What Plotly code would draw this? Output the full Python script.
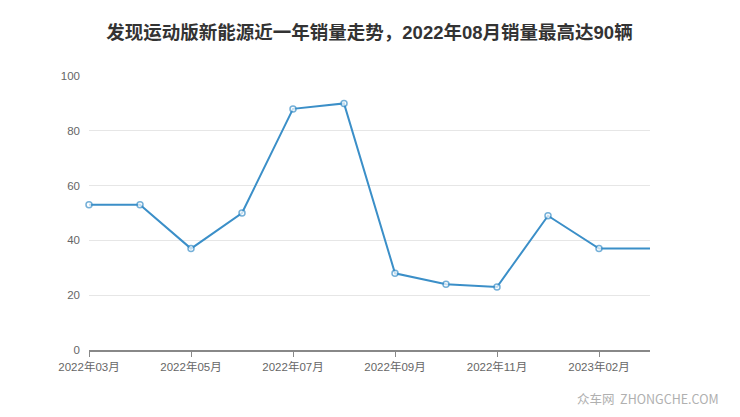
import plotly.graph_objects as go

months = ["2022年03月", "2022年04月", "2022年05月", "2022年06月", "2022年07月", "2022年08月",
          "2022年09月", "2022年10月", "2022年11月", "2022年12月", "2023年02月", "2023年03月"]
sales = [53, 53, 37, 50, 88, 90, 28, 24, 23, 49, 37, 37]
tick_labels = ["2022年03月", "2022年05月", "2022年07月", "2022年09月", "2022年11月", "2023年02月"]
y_ticks = [0, 20, 40, 60, 80, 100]

marker_sizes = [6] * (len(sales) - 1) + [0]

fig = go.Figure()
fig.add_trace(go.Scatter(
    x=list(range(len(months))), y=sales, mode="lines+markers",
    line=dict(color="#3b8fc8", width=2),
    marker=dict(size=marker_sizes, color="white", line=dict(color="#3b8fc8", width=1.5)),
    cliponaxis=False,
    customdata=months, hovertemplate="%{customdata}: %{y}<extra></extra>",
))

fig.update_layout(
    width=740, height=417,
    margin=dict(l=81, r=98, t=68, b=75),
    paper_bgcolor="white", plot_bgcolor="white",
    showlegend=False,
    font=dict(family="Liberation Sans, Noto Sans CJK SC, sans-serif", color="#666"),
    title=dict(text="发现运动版新能源近一年销量走势，2022年08月销量最高达90辆",
               x=0.5, xanchor="center", xref="paper", y=0.942, yanchor="middle",
               font=dict(size=18.5, color="#333", family="Liberation Sans, Noto Sans CJK SC, sans-serif", weight="bold")),
    xaxis=dict(
        range=[0, len(months) - 1],
        tickmode="array",
        tickvals=[months.index(t) for t in tick_labels],
        ticktext=tick_labels,
        showgrid=False, zeroline=False,
        showline=True, linecolor="#888", linewidth=1.5,
        ticks="outside", ticklen=5, tickcolor="#888",
        tickfont=dict(size=11.5, color="#666"),
    ),
    yaxis=dict(
        range=[0, 100],
        tickvals=y_ticks,
        showgrid=True, gridcolor="#e6e6e6", gridwidth=1,
        zeroline=False, showline=False,
        ticks="", ticklabelstandoff=8,
        tickfont=dict(size=11.5, color="#666"),
    ),
    annotations=[dict(
        text="众车网  ZHONGCHE.COM", xref="paper", yref="paper",
        x=1.126, y=-0.178, xanchor="right", yanchor="middle", showarrow=False,
        font=dict(size=12.5, color="#b0b0b0", family="Noto Sans CJK SC, sans-serif"),
    )],
)

fig.write_html("out.html")
